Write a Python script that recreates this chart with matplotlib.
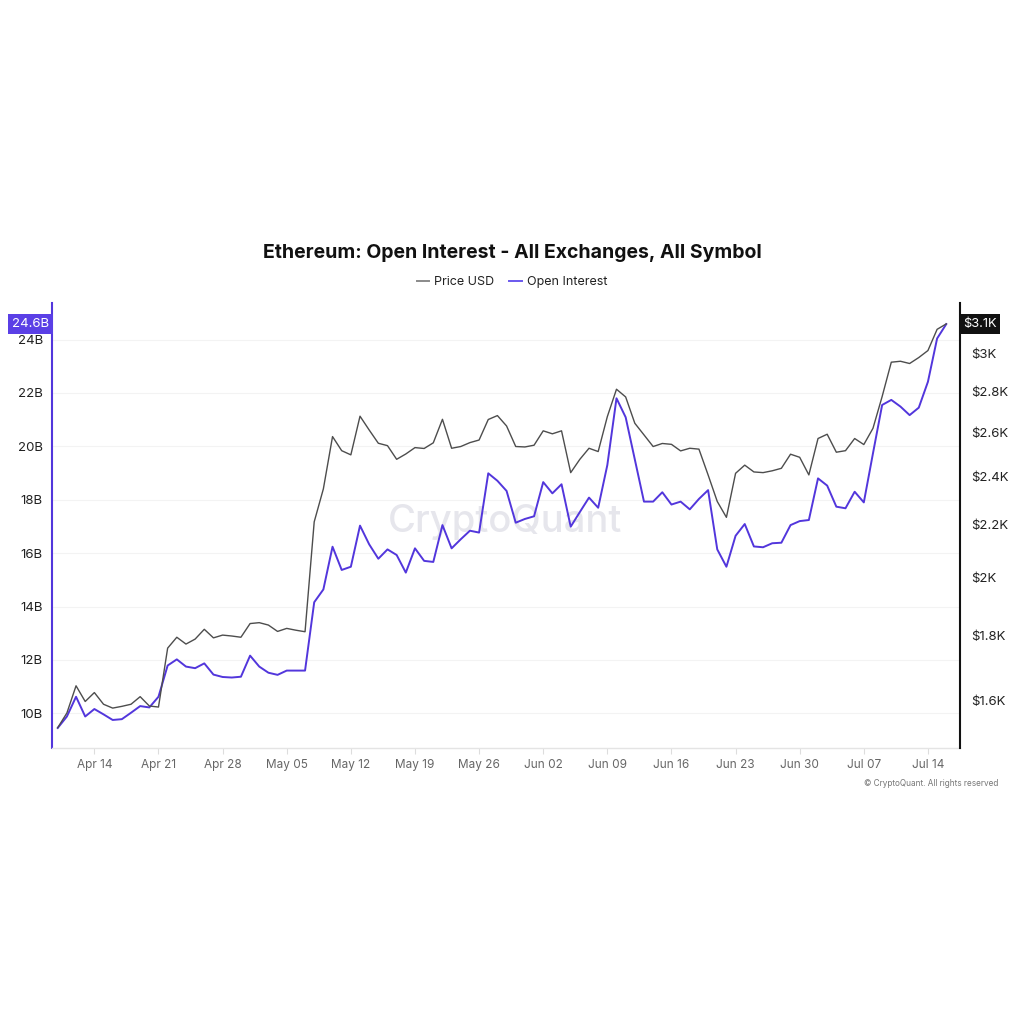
import numpy as np
import matplotlib
matplotlib.use("Agg")
import matplotlib.pyplot as plt
import matplotlib.transforms as mtrans
from matplotlib.lines import Line2D
from matplotlib.ticker import NullLocator
import pandas as pd

plt.rcParams['font.family'] = ['Inter', 'DejaVu Sans']

# ---------------- data ----------------
start_date = '2025-04-10'

price_usd = [
    1523, 1564, 1643, 1597, 1623, 1589, 1578, 1583, 1589, 1611,
    1584, 1581, 1759, 1794, 1772, 1788, 1820, 1792, 1801, 1798,
    1794, 1839, 1842, 1834, 1813, 1823, 1817, 1812, 2211, 2347,
    2580, 2515, 2496, 2677, 2611, 2549, 2538, 2476, 2500, 2529,
    2525, 2551, 2662, 2526, 2534, 2552, 2564, 2661, 2680, 2630,
    2534, 2532, 2540, 2607, 2593, 2607, 2417, 2476, 2526, 2511,
    2675, 2811, 2772, 2643, 2588, 2534, 2548, 2544, 2514, 2526,
    2522, 2407, 2294, 2229, 2414, 2450, 2420, 2417, 2425, 2436,
    2499, 2485, 2407, 2571, 2591, 2508, 2515, 2571, 2543, 2619,
    2774, 2952, 2957, 2945, 2977, 3015, 3133, 3164,
]

open_interest_b = [
    9.45, 9.88, 10.62, 9.88, 10.16, 9.96, 9.75, 9.78, 10.02, 10.27,
    10.22, 10.62, 11.79, 12.02, 11.75, 11.69, 11.87, 11.45, 11.36, 11.34,
    11.37, 12.16, 11.75, 11.52, 11.44, 11.60, 11.60, 11.60, 14.16, 14.64,
    16.24, 15.37, 15.49, 17.03, 16.33, 15.79, 16.14, 15.93, 15.27, 16.18,
    15.71, 15.67, 17.05, 16.18, 16.52, 16.84, 16.77, 18.99, 18.71, 18.33,
    17.14, 17.28, 17.38, 18.66, 18.24, 18.58, 16.99, 17.54, 18.08, 17.70,
    19.30, 21.80, 21.09, 19.51, 17.93, 17.93, 18.28, 17.82, 17.93, 17.64,
    18.03, 18.36, 16.14, 15.49, 16.65, 17.09, 16.25, 16.22, 16.37, 16.39,
    17.05, 17.20, 17.24, 18.80, 18.53, 17.74, 17.68, 18.30, 17.90, 19.74,
    21.55, 21.74, 21.49, 21.17, 21.45, 22.42, 24.04, 24.58,
]

left_ticks = [10, 12, 14, 16, 18, 20, 22, 24]
left_labels = ['10B', '12B', '14B', '16B', '18B', '20B', '22B', '24B']
right_ticks = [1600, 1800, 2000, 2200, 2400, 2600, 2800, 3000]
right_labels = ['$1.6K', '$1.8K', '$2K', '$2.2K', '$2.4K', '$2.6K', '$2.8K', '$3K']
x_tick_dates = ['2025-04-14', '2025-04-21', '2025-04-28', '2025-05-05', '2025-05-12',
                '2025-05-19', '2025-05-26', '2025-06-02', '2025-06-09', '2025-06-16',
                '2025-06-23', '2025-06-30', '2025-07-07', '2025-07-14']
x_tick_labels = ['Apr 14', 'Apr 21', 'Apr 28', 'May 05', 'May 12', 'May 19', 'May 26',
                 'Jun 02', 'Jun 09', 'Jun 16', 'Jun 23', 'Jun 30', 'Jul 07', 'Jul 14']

title = 'Ethereum: Open Interest - All Exchanges, All Symbol'

# ---------------- style ----------------
PURPLE = '#5236dc'
BADGE_PURPLE = '#5a3fe6'
PRICE_COLOR = '#4d4d4d'

W = H = 1024
fig = plt.figure(figsize=(10.24, 10.24), dpi=100)
fig.patch.set_facecolor('white')

left_px, right_px, top_px, bottom_px = 52, 960, 303, 748
ax = fig.add_axes([left_px / W, 1 - bottom_px / H,
                   (right_px - left_px) / W, (bottom_px - top_px) / H])
ax2 = ax.twinx()

dates = pd.date_range(start_date, periods=len(price_usd), freq='D')

ax.plot(dates, open_interest_b, color=PURPLE, lw=1.4, zorder=3)
ax2.plot(dates, price_usd, color=PRICE_COLOR, lw=1.0, zorder=2)

t0 = pd.Timestamp(start_date)
ax.set_xlim(t0 - pd.Timedelta(hours=15), t0 + pd.Timedelta(hours=int(98.5 * 24)))
ax.set_ylim(8.70, 25.37)
ax2.set_yscale('log')
ax2.set_ylim(1468, 3286)

ax.set_yticks(left_ticks)
ax.set_yticklabels(left_labels)
ax2.set_yticks(right_ticks)
ax2.set_yticklabels(right_labels)
ax2.yaxis.set_minor_locator(NullLocator())
ax.set_xticks(pd.to_datetime(x_tick_dates))
ax.set_xticklabels(x_tick_labels)

ax.yaxis.grid(True, color='#f3f3f3', lw=0.8)
ax.set_axisbelow(True)

for s in ['top', 'right']:
    ax.spines[s].set_visible(False)
for s in ['top', 'left', 'bottom']:
    ax2.spines[s].set_visible(False)
ax.spines['left'].set_color(PURPLE)
ax.spines['left'].set_linewidth(1.5)
ax.spines['bottom'].set_color('#e4e4e4')
ax.spines['bottom'].set_linewidth(1.0)
ax2.spines['right'].set_color('#111111')
ax2.spines['right'].set_linewidth(1.5)

ax.tick_params(axis='y', length=0, pad=6.5, labelsize=9.5, labelcolor='#222222')
ax2.tick_params(axis='y', length=0, pad=8, labelsize=9.5, labelcolor='#222222')
ax.tick_params(axis='x', length=4, width=0.8, color='#dddddd', pad=4,
               labelsize=8.5, labelcolor='#666666')

# last value badges
tl = mtrans.blended_transform_factory(ax.transAxes, ax.transData)
ax.text(-0.003, open_interest_b[-1], f"{open_interest_b[-1]:.1f}B", transform=tl,
        ha='right', va='center', color='white', fontsize=9.5,
        bbox=dict(boxstyle='square,pad=0.28', fc=BADGE_PURPLE, ec='none'),
        clip_on=False, zorder=5)
tr = mtrans.blended_transform_factory(ax2.transAxes, ax2.transData)
price_lbl = f"${np.floor(price_usd[-1] / 100) / 10:g}K"
ax2.text(1.003, price_usd[-1], price_lbl, transform=tr,
         ha='left', va='center', color='white', fontsize=9.3,
         bbox=dict(boxstyle='square,pad=0.28', fc='#111111', ec='none'),
         clip_on=False, zorder=5)

# watermark
ax.text(0.499, 0.508, 'CryptoQuant', transform=ax.transAxes, ha='center', va='center',
        fontsize=27.5, color='#e6e6ec', fontweight='medium', zorder=0)

# title, legend, footer
fig.text(0.5, 1 - 253 / H, title, ha='center', va='center', fontsize=14.0,
         fontweight='bold', color='#111111')
handles = [Line2D([0], [0], color='#8a8a8a', lw=1.4),
           Line2D([0], [0], color='#6a58ee', lw=1.4)]
fig.legend(handles, ['Price USD', 'Open Interest'], loc='center',
           bbox_to_anchor=(0.5, 1 - 282 / H), ncol=2, frameon=False,
           handlelength=1.0, handletextpad=0.4, columnspacing=1.2,
           fontsize=9.0, labelcolor='#222222')
fig.text(998 / W, 1 - 783 / H, '\u00a9 CryptoQuant. All rights reserved',
         ha='right', va='center', fontsize=5.9, color='#777777')

fig.savefig('out.png', dpi=100, facecolor='white')
